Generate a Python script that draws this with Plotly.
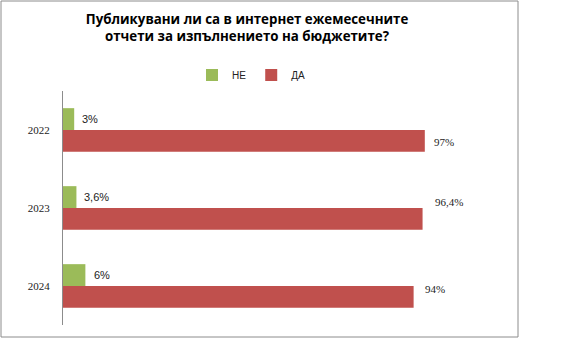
import plotly.graph_objects as go

years = ["2022", "2023", "2024"]
ne_values = [3, 3.6, 6]
da_values = [97, 96.4, 94]
series_names = ["НЕ", "ДА"]
title_text = "Публикувани ли са в интернет ежемесечните<br>отчети за изпълнението на бюджетите?"

# label pixel offsets (style only)
ne_label_shift = [(6, 11), (6, 11), (7, 11)]
da_label_shift = [(7, -12), (10, 6), (9, -3)]

GREEN = "#9BBB59"
RED = "#C0504D"

def fmt(v):
    s = ("%g" % v).replace(".", ",")
    return s + "%"

fig = go.Figure()
fig.add_trace(go.Bar(y=years, x=ne_values, name=series_names[0], orientation="h",
                     marker=dict(color=GREEN, line=dict(width=0)), hoverinfo="skip"))
fig.add_trace(go.Bar(y=years, x=da_values, name=series_names[1], orientation="h",
                     marker=dict(color=RED, line=dict(width=0)), hoverinfo="skip"))

annotations = []
for i, (v, (dx, dy)) in enumerate(zip(ne_values, ne_label_shift)):
    annotations.append(dict(x=v, y=i, xref="x", yref="y", text=fmt(v), showarrow=False,
                            xanchor="left", yanchor="middle", xshift=dx, yshift=dy,
                            font=dict(family="Liberation Sans, Arial", size=11, color="#222")))
for i, (v, (dx, dy)) in enumerate(zip(da_values, da_label_shift)):
    annotations.append(dict(x=v, y=i, xref="x", yref="y", text=fmt(v), showarrow=False,
                            xanchor="left", yanchor="middle", xshift=dx, yshift=dy,
                            font=dict(family="Liberation Serif, Times New Roman", size=11, color="#222")))

fig.update_layout(
    width=582, height=353,
    margin=dict(l=63, r=146, t=91, b=28, autoexpand=False),
    paper_bgcolor="white", plot_bgcolor="white",
    barmode="group", bargap=0.44, bargroupgap=0,
    title=dict(text="<b>" + title_text + "</b>", x=247 / 582,
               xanchor="center", y=1 - 24 / 353, yanchor="middle",
               font=dict(family="Open Sans, Noto Sans, sans-serif", size=13.3, color="black")),
    legend=dict(orientation="h", x=(251 - 63) / 373, xanchor="center", y=(325 - 75) / 234,
                yanchor="middle",
                font=dict(family="Liberation Sans, Arial", size=10, color="#222"),
                traceorder="normal",
                bgcolor="rgba(0,0,0,0)"),
    xaxis=dict(range=[0, 100], showgrid=False, zeroline=False, showticklabels=False,
               showline=False, ticks=""),
    yaxis=dict(range=[2.5, -0.5], type="category", categoryorder="array", categoryarray=years,
               showgrid=False, zeroline=False,
               showline=True, linecolor="#8c8c8c", linewidth=1, ticks="",
               ticklabelstandoff=10,
               tickfont=dict(family="Liberation Serif, Times New Roman", size=11, color="#222")),
    annotations=annotations,
    shapes=[dict(type="rect", xref="paper", yref="paper",
                 x0=(1 - 63) / 373, x1=(518 - 63) / 373,
                 y0=(325 - 337) / 234, y1=(325 - 1) / 234,
                 line=dict(color="#8c8c8c", width=1), fillcolor="rgba(0,0,0,0)", layer="below")],
)

fig.write_html("out.html")
